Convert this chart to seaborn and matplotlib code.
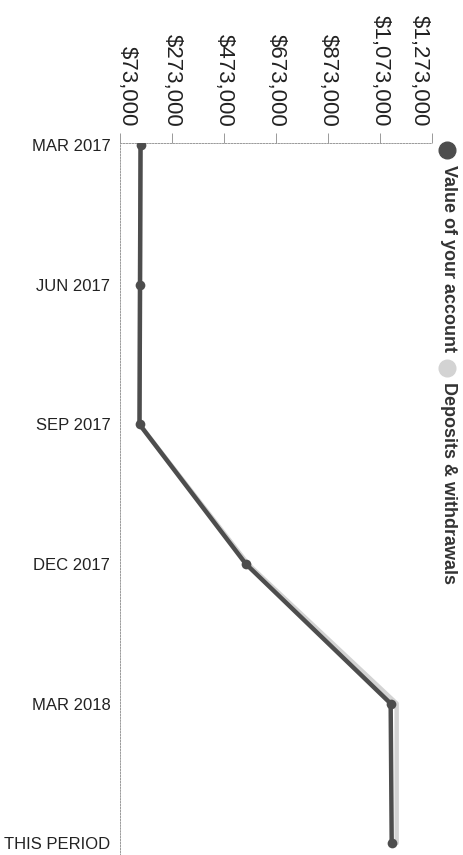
"""Account value vs deposits, rotated statement chart."""

import matplotlib
matplotlib.use("Agg")
import matplotlib.pyplot as plt
import matplotlib.transforms as mtransforms
from matplotlib.lines import Line2D
import seaborn as sns
import pandas as pd

periods = ["MAR 2017", "JUN 2017", "SEP 2017", "DEC 2017", "MAR 2018", "THIS PERIOD"]
account_value = [152000, 150000, 148000, 557000, 1114000, 1118000]
deposits = [152000, 150000, 148000, 565000, 1137000, 1137000]
value_ticks = [73000, 273000, 473000, 673000, 873000, 1073000, 1273000]

DARK = "#4d4d4d"
LIGHT = "#d3d3d3"

sns.set_theme(style="white")
plt.rcParams["font.family"] = ["Liberation Sans", "DejaVu Sans"]

df = pd.DataFrame(
    {
        "pos": list(range(len(periods))) * 2,
        "value": account_value + deposits,
        "series": ["value"] * len(periods) + ["deposits"] * len(periods),
    }
)

fig = plt.figure(figsize=(4.64, 8.55), dpi=100)
ax = fig.add_axes([120 / 464, 0.0, (432 - 120) / 464, 1 - 143 / 855])

sns.lineplot(
    data=df[df.series == "deposits"], x="value", y="pos", orient="y",
    sort=False, color=LIGHT, linewidth=3.2, ax=ax, zorder=2,
)
sns.lineplot(
    data=df[df.series == "value"], x="value", y="pos", orient="y",
    sort=False, color=DARK, linewidth=3.2, marker="o", markersize=7,
    markeredgewidth=0, ax=ax, zorder=3,
)

ax.set_xlim(73000, 1273000)
ax.set_ylim(5.085, -0.015)
ax.set_xlabel("")
ax.set_ylabel("")

# value axis on top, labels reading top to bottom
ax.xaxis.tick_top()
ax.set_xticks(value_ticks)
ax.set_xticklabels([f"${v:,.0f}" for v in value_ticks], rotation=270, fontsize=16, color="#222222")
ax.tick_params(axis="x", which="both", top=True, bottom=False, length=7, width=0.7,
               color="#999999", pad=5, direction="out")
labels = ax.get_xticklabels()
labels[0].set_transform(labels[0].get_transform() + mtransforms.ScaledTranslation(7 / 100, 0, fig.dpi_scale_trans))
labels[-1].set_transform(labels[-1].get_transform() + mtransforms.ScaledTranslation(-13 / 100, 0, fig.dpi_scale_trans))

ax.set_yticks(range(len(periods)))
ax.set_yticklabels(periods, fontsize=12, color="#222222")
ax.tick_params(axis="y", length=0, pad=7)

for side in ["right", "bottom"]:
    ax.spines[side].set_visible(False)
for side in ["top", "left"]:
    ax.spines[side].set_linestyle((0, (1.5, 1.5)))
    ax.spines[side].set_color("#9a9a9a")
    ax.spines[side].set_linewidth(0.7)

legend_bits = [(150, 165, DARK, "Value of your account"), (368, 382, LIGHT, "Deposits & withdrawals")]
for cy, ty, col, txt in legend_bits:
    fig.add_artist(Line2D([447 / 464], [1 - cy / 855], marker="o", markersize=12,
                          color=col, linestyle="none", transform=fig.transFigure))
    fig.text(449 / 464, 1 - ty / 855, txt, rotation=270, ha="center", va="top",
             fontsize=13, fontweight="bold", color="#333333")

fig.savefig("out.png", dpi=100)
